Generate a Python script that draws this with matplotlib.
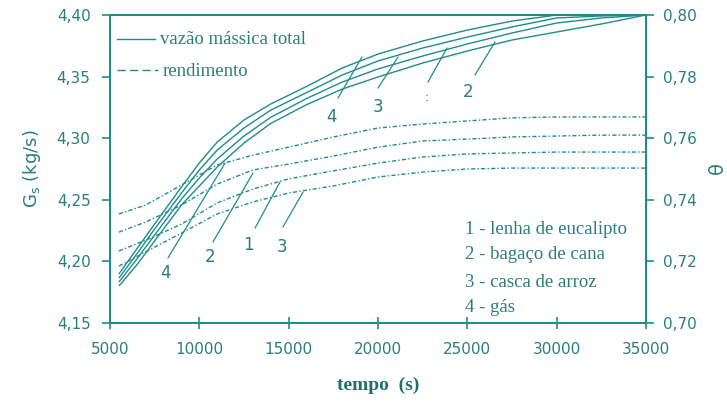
import matplotlib
matplotlib.use('Agg')
import matplotlib.pyplot as plt
from matplotlib.lines import Line2D

# ---------------- data ----------------
tempo_vazao = [5500, 6500, 7500, 9000, 10000, 11000, 12500, 14000, 16000, 18000,
               20000, 22500, 25000, 27500, 30000, 32500, 35000]
gs_gas = [4.1898, 4.2101, 4.2304, 4.2604, 4.2799, 4.2969, 4.3148, 4.3278, 4.3420,
          4.3570, 4.3683, 4.3789, 4.3878, 4.3951, 4.4000, 4.4000, 4.4000]
gs_casca = [4.1865, 4.2060, 4.2263, 4.2555, 4.2742, 4.2904, 4.3083, 4.3228, 4.3370,
            4.3513, 4.3627, 4.3732, 4.3821, 4.3903, 4.3976, 4.3992, 4.4000]
gs_lenha = [4.1833, 4.2019, 4.2214, 4.2506, 4.2677, 4.2831, 4.3018, 4.3170, 4.3322,
            4.3456, 4.3562, 4.3667, 4.3765, 4.3854, 4.3935, 4.3976, 4.4000]
gs_bagaco = [4.1800, 4.1971, 4.2166, 4.2458, 4.2612, 4.2766, 4.2961, 4.3120, 4.3272,
             4.3399, 4.3497, 4.3610, 4.3708, 4.3797, 4.3862, 4.3927, 4.4000]

tempo_rend = [5500, 7000, 9000, 11000, 13000, 15000, 17500, 20000, 22500, 25000,
              27500, 30000, 32500, 35000]
th_gas = [0.7354, 0.7383, 0.7448, 0.7513, 0.7545, 0.7571, 0.7604, 0.7633, 0.7646,
          0.7656, 0.7666, 0.7669, 0.7669, 0.7669]
th_bagaco = [0.7295, 0.7328, 0.7383, 0.7451, 0.7497, 0.7516, 0.7542, 0.7571, 0.7591,
             0.7597, 0.7604, 0.7607, 0.7610, 0.7610]
th_lenha = [0.7234, 0.7269, 0.7321, 0.7390, 0.7435, 0.7468, 0.7494, 0.7519, 0.7539,
            0.7549, 0.7552, 0.7555, 0.7555, 0.7555]
th_casca = [0.7185, 0.7231, 0.7292, 0.7354, 0.7393, 0.7422, 0.7445, 0.7474, 0.7490,
            0.7500, 0.7503, 0.7503, 0.7503, 0.7503]

x_ticks = [5000, 10000, 15000, 20000, 25000, 30000, 35000]
x_labels = ['5000', '10000', '15000', '20000', '25000', '30000', '35000']
left_ticks = [4.15, 4.20, 4.25, 4.30, 4.35, 4.40]
left_labels = ['4,15', '4,20', '4,25', '4,30', '4,35', '4,40']
right_ticks = [0.70, 0.72, 0.74, 0.76, 0.78, 0.80]
right_labels = ['0,70', '0,72', '0,74', '0,76', '0,78', '0,80']

legend_main = ['vazão mássica total', 'rendimento']
legend_fuels = ['1 - lenha de eucalipto', '2 - bagaço de cana',
                '3 - casca de arroz', '4 - gás']

# ---------------- style ----------------
LINE = '#1f8c8c'
TEXT = '#2b7d7d'
SERIF = ['Liberation Serif', 'DejaVu Serif']
SANS = ['DejaVu Sans']

fig = plt.figure(figsize=(7.27, 4.12), dpi=100)
ax = fig.add_axes([110 / 727, 1 - 323 / 412, 536 / 727, 308 / 412])
ax2 = ax.twinx()

# solid curves (left axis)
for ys in (gs_gas, gs_casca, gs_lenha, gs_bagaco):
    ax.plot(tempo_vazao, ys, color=LINE, lw=1.0, solid_capstyle='butt',
            solid_joinstyle='round', clip_on=False)

# dashed curves (right axis)
for ys in (th_gas, th_bagaco, th_lenha, th_casca):
    ax2.plot(tempo_rend, ys, color=LINE, lw=1.0, linestyle=(0, (3, 1.6, 1, 1.6)))

ax.set_xlim(5000, 35000)
ax.set_ylim(4.15, 4.40)
ax2.set_ylim(0.70, 0.80)

ax.set_xticks(x_ticks)
ax.set_xticklabels(x_labels)
ax.set_yticks(left_ticks)
ax.set_yticklabels(left_labels)
ax2.set_yticks(right_ticks)
ax2.set_yticklabels(right_labels)

for a in (ax, ax2):
    for s in a.spines.values():
        s.set_color(LINE)
        s.set_linewidth(1.4)

ax.tick_params(axis='x', direction='inout', length=8, width=1.2, color=LINE,
               labelcolor=TEXT, labelsize=11, pad=10)
ax.tick_params(axis='y', direction='out', length=6, width=1.2, color=LINE,
               labelcolor=TEXT, labelsize=11, pad=8)
ax2.tick_params(axis='y', direction='out', length=6, width=1.2, color=LINE,
                labelcolor=TEXT, labelsize=11, pad=6)
for lab in ax.get_xticklabels() + ax.get_yticklabels() + ax2.get_yticklabels():
    lab.set_family(SANS)

ax.set_ylabel(r'G$_\mathregular{s}$ (kg/s)', family=SANS, fontsize=13, color=TEXT, labelpad=10)
fig.text(717 / 727, 1 - 168 / 412, 'θ', family=SANS, fontsize=14, color=TEXT,
         rotation=90, ha='center', va='center')
ax.set_xlabel('tempo  (s)', family=SERIF, fontsize=14, fontweight='bold', color='#1f6f6f', labelpad=14)

# top-left legend (drawn manually in axes fraction)
ax.add_line(Line2D([0.013, 0.084], [0.922, 0.922], transform=ax.transAxes, color=LINE, lw=1.0))
ax.text(0.093, 0.919, legend_main[0], transform=ax.transAxes, family=SERIF, fontsize=13.5,
        color=TEXT, va='center', ha='left')
ax.add_line(Line2D([0.013, 0.09], [0.821, 0.821], transform=ax.transAxes, color=LINE, lw=1.0,
                   linestyle=(0, (6, 3))))
ax.text(0.099, 0.815, legend_main[1], transform=ax.transAxes, family=SERIF, fontsize=13.5,
        color=TEXT, va='center', ha='left')

# fuel legend bottom right
for lab, yy in zip(legend_fuels, [0.302, 0.221, 0.133, 0.049]):
    ax.text(0.662, yy, lab, transform=ax.transAxes, family=SERIF, fontsize=13.5,
            color=TEXT, va='center', ha='left')

# curve labels with leader lines
lead = dict(arrowstyle='-', color=LINE, lw=0.9, shrinkA=0, shrinkB=0)
# dashed (right axis)
for txt, tpos, p0, p1 in [
        ('4', (8134, 0.7162), (8246, 0.7211), (11437, 0.7519)),
        ('2', (10597, 0.7214), (10765, 0.7263), (13004, 0.7487)),
        ('1', (12724, 0.7253), (13116, 0.7308), (14515, 0.7458)),
        ('3', (14627, 0.7247), (14683, 0.7312), (15803, 0.7425))]:
    ax2.annotate('', xy=p1, xytext=p0, arrowprops=lead)
    ax2.text(*tpos, txt, family=SANS, fontsize=12, color=TEXT, ha='center', va='center')
# solid (left axis)
for txt, tpos, p0, p1 in [
        ('4', (17425, 4.3172), (17761, 4.3326), (19104, 4.3659)),
        ('3', (20000, 4.3253), (20000, 4.3407), (21119, 4.3659)),
        ('', None, (22798, 4.3456), (23862, 4.3732)),
        ('2', (25037, 4.3375), (25429, 4.3513), (26549, 4.3781))]:
    ax.annotate('', xy=p1, xytext=p0, arrowprops=lead)
    if tpos:
        ax.text(*tpos, txt, family=SANS, fontsize=12, color=TEXT, ha='center', va='center')
ax.text(22742, 4.333, ':', family=SANS, fontsize=9, color=LINE, ha='center', va='center')

fig.savefig('out.png', dpi=100)
